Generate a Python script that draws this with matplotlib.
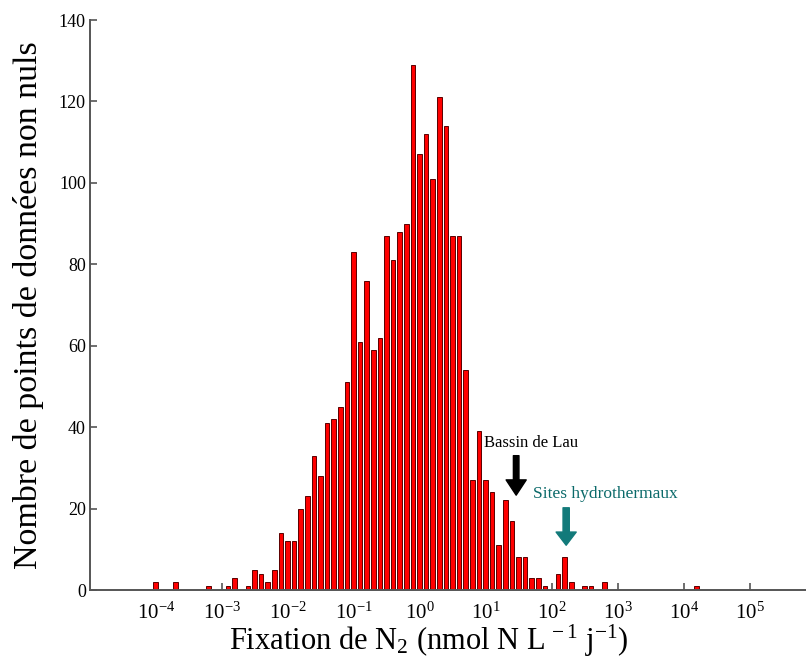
import numpy as np
import matplotlib
matplotlib.use('Agg')
import matplotlib.pyplot as plt

# log10 of bin centres (one bin per 0.1 decade) and counts per bin
log_centres = np.round(np.arange(-4.01, 4.20, 0.1), 2)
counts = [2, 0, 0, 2, 0, 0, 0, 0, 1, 0,
          0, 1, 3, 0, 1, 5, 4, 2, 5, 14,
          12, 12, 20, 23, 33, 28, 41, 42, 45, 51,
          83, 61, 76, 59, 62, 87, 81, 88, 90, 129,
          107, 112, 101, 121, 114, 87, 87, 54, 27, 39,
          27, 24, 11, 22, 17, 8, 8, 3, 3, 1,
          0, 4, 8, 2, 0, 1, 1, 0, 2, 0,
          0, 0, 0, 0, 0, 0, 0, 0, 0, 0,
          0, 0, 1]
tick_exps = [-4, -3, -2, -1, 0, 1, 2, 3, 4, 5]
y_ticks = [0, 20, 40, 60, 80, 100, 120, 140]

plt.rcParams['font.family'] = ['Liberation Serif', 'DejaVu Serif']
plt.rcParams['mathtext.fontset'] = 'custom'
plt.rcParams['mathtext.rm'] = 'Liberation Serif'
plt.rcParams['mathtext.it'] = 'Liberation Serif'

fig = plt.figure(figsize=(8.06, 6.64), dpi=100)
ax = fig.add_axes([0.1117, 0.1114, 0.901, 0.8584])

half = 0.035
lefts = 10 ** (log_centres - half)
widths = 10 ** (log_centres + half) - lefts
ax.bar(lefts, counts, width=widths, align='edge', color='#ff0000',
       edgecolor='#5a0000', linewidth=0.7, zorder=2)

ax.set_xscale('log')
ax.set_xlim(1e-5, 1e6)
ax.set_ylim(0, 140)

ax.set_xticks([10.0 ** e for e in tick_exps])
ax.set_xticklabels([r'$\mathregular{10^{%d}}$' % e for e in tick_exps], fontsize=15)
ax.xaxis.set_minor_locator(matplotlib.ticker.NullLocator())
ax.set_yticks(y_ticks)
ax.set_yticklabels([str(v) for v in y_ticks], fontsize=13)

for s in ['top', 'right']:
    ax.spines[s].set_visible(False)
for s in ['left', 'bottom']:
    ax.spines[s].set_color('#555555')
    ax.spines[s].set_linewidth(1.4)
ax.tick_params(axis='both', direction='in', length=5, width=1.2, color='#555555')
ax.tick_params(axis='x', pad=9)
ax.tick_params(axis='y', pad=3)

ax.set_xlabel(r'Fixation de N$_2$ (nmol N L$^{\,-1}$ j$^{-1}$)', fontsize=22)
ax.xaxis.set_label_coords(0.467, -0.057)
ax.set_ylabel('Nombre de points de données non nuls', fontsize=24.5)
ax.yaxis.set_label_coords(-0.064, 0.5)

# annotations
ax.text(9.3, 36, 'Bassin de Lau', fontsize=12, color='black', va='center', ha='left')
ax.annotate('', xy=(28.5, 23.3), xytext=(28.5, 33),
            arrowprops=dict(arrowstyle='simple,head_length=1.1,head_width=1.45,tail_width=0.4',
                            color='black', shrinkA=0, shrinkB=0, mutation_scale=10))
ax.text(51.5, 23.6, 'Sites hydrothermaux', fontsize=12.5, color='#0b6a6a', va='center', ha='left')
ax.annotate('', xy=(163, 11), xytext=(163, 20.2),
            arrowprops=dict(arrowstyle='simple,head_length=0.95,head_width=1.45,tail_width=0.45',
                            color='#127a7a', shrinkA=0, shrinkB=0, mutation_scale=10))

fig.savefig('out.png', dpi=100)
